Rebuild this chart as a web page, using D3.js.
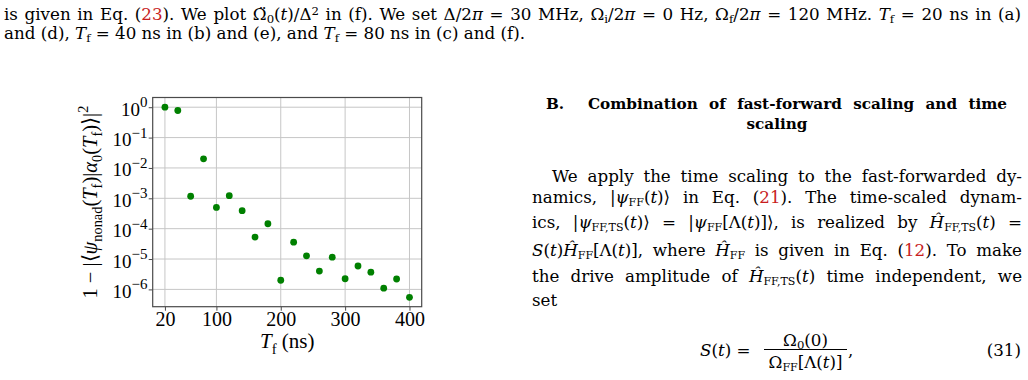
<!DOCTYPE html>
<html>
<head>
<meta charset="utf-8">
<script src="https://cdn.jsdelivr.net/npm/d3@7"></script>
<style>
  body { margin: 0; width: 1028px; height: 380px; background: #fff; position: relative; overflow: hidden;
         font-family: "DejaVu Serif", "Liberation Serif", serif; color: #000; }
  #chart { position: absolute; left: 0; top: 0; }
  .tl { position: absolute; white-space: nowrap; line-height: 1; display: inline-block; }
  .tl.bold { font-weight: bold; }
  .ref { color: #c81e1e; }
  sub { font-size: 0.7em; vertical-align: -0.25em; line-height: 0; }
  sup { font-size: 0.7em; vertical-align: 0.45em; line-height: 0; }
  .sc { font-size: 0.66em; vertical-align: -0.3em; line-height: 0; }
  .frac { position: absolute; border-top: 1px solid #000; height: 0; }
</style>
</head>
<body>
<svg id="chart" width="1028" height="380"></svg>

<!-- caption text above the figure -->
<div class="tl" data-x="4" data-b="19.5" data-w="1017" data-a="j">is given in Eq. (<span class="ref">23</span>). We plot Ω&#776;<sub>0</sub>(<i>t</i>)/Δ<sup>2</sup> in (f). We set Δ/2<i>π</i> = 30 MHz, Ω<sub>i</sub>/2<i>π</i> = 0 Hz, Ω<sub>f</sub>/2<i>π</i> = 120 MHz. <i>T</i><sub>f</sub> = 20 ns in (a)</div>
<div class="tl" id="fitline" data-x="4" data-b="39.3" data-a="l">and (d), <i>T</i><sub>f</sub> = 40 ns in (b) and (e), and <i>T</i><sub>f</sub> = 80 ns in (c) and (f).</div>

<!-- right column -->
<div class="tl bold" data-x="546" data-b="109" data-a="l">B.</div>
<div class="tl bold" data-x="588" data-b="109" data-w="419" data-a="j">Combination of fast-forward scaling and time</div>
<div class="tl bold" id="fitbold" data-x="532" data-b="129" data-w="490" data-a="c">scaling</div>

<div class="tl" data-x="552" data-b="182" data-w="470" data-a="j">We apply the time scaling to the fast-forwarded dy-</div>
<div class="tl" data-x="532" data-b="203.3" data-w="490" data-a="j">namics, |<i>ψ</i><span class="sc">FF</span>(<i>t</i>)⟩ in Eq. (<span class="ref">21</span>). The time-scaled dynam-</div>
<div class="tl" data-x="532" data-b="228" data-w="490" data-a="j">ics, |<i>ψ</i><span class="sc">FF,TS</span>(<i>t</i>)⟩ = |<i>ψ</i><span class="sc">FF</span>[Λ(<i>t</i>)]⟩, is realized by <i>Ĥ</i><span class="sc">FF,TS</span>(<i>t</i>) =</div>
<div class="tl" data-x="532" data-b="256.3" data-w="490" data-a="j"><i>S</i>(<i>t</i>)<i>Ĥ</i><span class="sc">FF</span>[Λ(<i>t</i>)], where <i>Ĥ</i><span class="sc">FF</span> is given in Eq. (<span class="ref">12</span>). To make</div>
<div class="tl" data-x="532" data-b="282.2" data-w="490" data-a="j">the drive amplitude of <i>Ĥ</i><span class="sc">FF,TS</span>(<i>t</i>) time independent, we</div>
<div class="tl" data-x="532" data-b="306" data-a="l">set</div>

<!-- equation (31) -->
<div class="tl" data-x="700" data-b="356.3" data-a="l"><i>S</i>(<i>t</i>) =</div>
<div class="tl" data-x="764" data-b="345.5" data-w="83" data-a="c">Ω<sub>0</sub>(0)</div>
<div class="frac" style="left:764px; top:349px; width:83px;"></div>
<div class="tl" data-x="764" data-b="367.5" data-w="83" data-a="c">Ω<span class="sc">FF</span>[Λ(<i>t</i>)]</div>
<div class="tl" data-x="848" data-b="356.3" data-a="l">,</div>
<div class="tl" data-x="1021" data-b="356.3" data-w="0" data-a="r">(31)</div>

<script>
// final time T_f (ns)
const tfValues = [20, 40, 60, 80, 100, 120, 140, 160, 180, 200,
                  220, 240, 260, 280, 300, 320, 340, 360, 380, 400];
// 1 - |<psi_nonad(T_f)|alpha_0(T_f)>|^2
const infidelity = [1.0, 0.78, 1.17e-3, 2.0e-2, 5.0e-4, 1.22e-3, 3.9e-4, 5.3e-5, 1.45e-4, 2.0e-6,
                    3.6e-5, 1.28e-5, 4.0e-6, 1.15e-5, 2.24e-6, 5.9e-6, 3.7e-6, 1.1e-6, 2.2e-6, 5.5e-7];
const xTickValues = [20, 100, 200, 300, 400];
const yTickExponents = [0, -1, -2, -3, -4, -5, -6];

// ---------- page text layout (TeX-like justified lines) ----------
function fitSize(el, target) {
  el.style.fontSize = "100px";
  return 100 * target / el.getBoundingClientRect().width;
}
const bodySize = fitSize(document.getElementById("fitline"), 521);
const boldSize = fitSize(document.getElementById("fitbold"), 61);

document.querySelectorAll(".tl").forEach(el => {
  el.style.fontSize = (el.classList.contains("bold") ? boldSize : bodySize) + "px";
  el.style.left = el.dataset.x + "px";
  el.style.top = "0px";
  el.insertAdjacentHTML("beforeend",
    '<span style="display:inline-block;width:0;height:0;vertical-align:baseline"></span>');
  const w0 = el.getBoundingClientRect().width;
  const W = +(el.dataset.w || 0);
  const a = el.dataset.a;
  if (a === "j") {
    const n = (el.textContent.match(/ /g) || []).length;
    el.style.wordSpacing = ((W - w0) / n) + "px";
  } else if (a === "c") {
    el.style.left = (+el.dataset.x + (W - w0) / 2) + "px";
  } else if (a === "r") {
    el.style.left = (+el.dataset.x - w0) + "px";
  }
  const base = el.lastElementChild.getBoundingClientRect().bottom - el.getBoundingClientRect().top;
  el.style.top = (+el.dataset.b - base) + "px";
});

// ---------- chart ----------
const plot = { left: 152.7, right: 421.7, top: 97.5, bottom: 306.7 };
const axisColor = "#4a4a4a";
const gridColor = "#c6c6c6";
const chartFont = "'Liberation Serif', serif";

const svg = d3.select("#chart");

const x = d3.scaleLinear()
    .domain([1, 419])
    .range([plot.left, plot.right]);

const y = d3.scaleLog()
    .domain([Math.pow(10, -6.57), Math.pow(10, 0.32)])
    .range([plot.bottom, plot.top]);

const yTicks = yTickExponents.map(e => Math.pow(10, e));

// grid
svg.append("g")
    .selectAll("line")
    .data(xTickValues)
    .join("line")
    .attr("x1", d => x(d)).attr("x2", d => x(d))
    .attr("y1", plot.top).attr("y2", plot.bottom)
    .attr("stroke", gridColor).attr("stroke-width", 1);

svg.append("g")
    .selectAll("line")
    .data(yTicks)
    .join("line")
    .attr("x1", plot.left).attr("x2", plot.right)
    .attr("y1", d => y(d)).attr("y2", d => y(d))
    .attr("stroke", gridColor).attr("stroke-width", 1);

function xAxis(g) {
  g.attr("transform", "translate(0," + plot.bottom + ")")
    .call(d3.axisBottom(x).tickValues(xTickValues).tickSize(4).tickPadding(2))
    .call(g => g.select(".domain").remove());
  g.selectAll("line").attr("stroke", axisColor);
  g.selectAll("text")
    .attr("fill", "#000")
    .attr("dy", "0.68em")
    .style("font-family", chartFont)
    .style("font-size", "20px");
}

function yAxis(g) {
  g.attr("transform", "translate(" + plot.left + ",0)")
    .call(d3.axisLeft(y).tickValues(yTicks).tickSize(4).tickPadding(1.3).tickFormat(""))
    .call(g => g.select(".domain").remove());
  g.selectAll("line").attr("stroke", axisColor);
  g.selectAll(".tick text").each(function(d) {
    const t = d3.select(this)
      .attr("fill", "#000")
      .attr("dy", "0.42em")
      .style("font-family", chartFont)
      .style("font-size", "19px");
    t.text("10");
    const e = Math.round(Math.log10(d));
    t.append("tspan")
      .attr("dy", -8.5)
      .style("font-size", "15px")
      .text(e < 0 ? "\u2212" + (-e) : String(e));
  });
}

svg.append("g").call(xAxis);
svg.append("g").call(yAxis);

// frame
svg.append("rect")
    .attr("x", plot.left).attr("y", plot.top)
    .attr("width", plot.right - plot.left)
    .attr("height", plot.bottom - plot.top)
    .attr("fill", "none")
    .attr("stroke", axisColor)
    .attr("stroke-width", 1.2);

// points
svg.append("g")
    .attr("fill", "#008000")
    .selectAll("circle")
    .data(tfValues.map((t, i) => ({ t: t, v: infidelity[i] })))
    .join("circle")
    .attr("cx", d => x(d.t))
    .attr("cy", d => y(d.v))
    .attr("r", 3.4);

// label with sub/superscripts: parts of [text, kind]
function richText(sel, parts, size) {
  let shift = 0;
  parts.forEach(([txt, kind]) => {
    let target = 0, fs = size, style = "normal";
    if (kind === "i") style = "italic";
    if (kind === "sub") { target = size * 0.28; fs = size * 0.7; }
    if (kind === "sup") { target = -size * 0.42; fs = size * 0.7; }
    sel.append("tspan")
      .attr("dy", target - shift)
      .style("font-size", fs + "px")
      .style("font-style", style)
      .text(txt);
    shift = target;
  });
}

function xAxisLabel(g) {
  const t = g.append("text")
    .attr("x", (plot.left + plot.right) / 2)
    .attr("y", 348.3)
    .attr("text-anchor", "middle")
    .style("font-family", chartFont);
  richText(t, [["T", "i"], ["f", "sub"], [" (ns)", "n"]], 21);
}

function yAxisLabel(g) {
  const t = g.append("text")
    .attr("transform", "rotate(-90)")
    .attr("x", -(plot.top + plot.bottom) / 2)
    .attr("y", 96.5)
    .attr("text-anchor", "middle")
    .style("font-family", chartFont);
  richText(t, [["1 \u2212 |\u27E8", "n"], ["\u03C8", "i"], ["nonad", "sub"], ["(", "n"], ["T", "i"], ["f", "sub"],
               [")|", "n"], ["\u03B1", "i"], ["0", "sub"], ["(", "n"], ["T", "i"], ["f", "sub"],
               [")\u27E9|", "n"], ["2", "sup"]], 20.5);
}

svg.append("g").call(xAxisLabel);
svg.append("g").call(yAxisLabel);
</script>
</body>
</html>
